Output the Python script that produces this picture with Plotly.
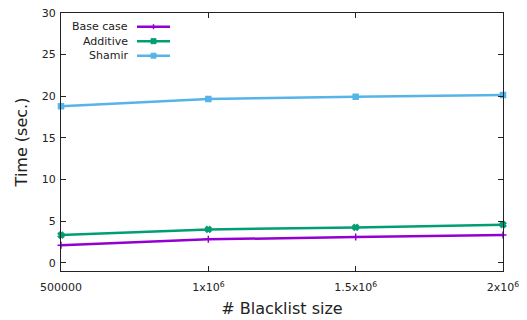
import plotly.graph_objects as go

blacklist_sizes = [500000, 1000000, 1500000, 2000000]
base_case = [2.08, 2.8, 3.08, 3.32]
additive = [3.32, 4.0, 4.24, 4.57]
shamir = [18.8, 19.66, 19.94, 20.14]

x_tick_vals = [500000, 1000000, 1500000, 2000000]
x_tick_text = ["500000", "1x10<sup>6</sup>", "1.5x10<sup>6</sup>", "2x10<sup>6</sup>"]
y_tick_vals = [0, 5, 10, 15, 20, 25, 30]

series_names = ["Base case", "Additive", "Shamir"]
colors = ["#9400D3", "#009E73", "#56B4E9"]
symbols = ["cross-thin", "x", "square"]
series = [base_case, additive, shamir]

FONT = "DejaVu Sans"

fig = go.Figure()
for name, vals, col, sym in zip(series_names, series, colors, symbols):
    fig.add_trace(go.Scatter(
        x=blacklist_sizes, y=vals, name=name, mode="lines+markers",
        line=dict(color=col, width=2.5),
        marker=dict(symbol=sym, size=5, color=col, line=dict(color=col, width=1.5)),
        cliponaxis=False, showlegend=False,
    ))

# The page body has an 8px margin, so the figure is drawn 8px right/down.
OFF = 8
L, R, T, B = 61, 503, 13, 271   # plot area in window pixels
W, H = R - L, B - T
def px(x):
    return (x - L) / W
def py(y):
    return (B - y) / H

rows_y = [26.7, 41.2, 55.7]
for name, col, yy, sym in zip(series_names, colors, rows_y, symbols):
    fig.add_annotation(x=px(130), y=py(yy), xref="paper", yref="paper",
                       text=name, showarrow=False, xanchor="right", yanchor="middle",
                       font=dict(family=FONT, size=11, color="#222"))
    fig.add_shape(type="line", xref="paper", yref="paper",
                  x0=px(137), x1=px(170), y0=py(yy), y1=py(yy),
                  line=dict(color=col, width=2.5))
    cx, cy = 153.5, yy
    if sym in ("square", "x"):
        fig.add_shape(type="rect", xref="paper", yref="paper",
                      x0=px(cx - 2.5), x1=px(cx + 2.5), y0=py(cy - 2.5), y1=py(cy + 2.5),
                      line=dict(color=col, width=1), fillcolor=col)
    else:
        fig.add_shape(type="line", xref="paper", yref="paper",
                      x0=px(cx), x1=px(cx), y0=py(cy - 2.5), y1=py(cy + 2.5),
                      line=dict(color=col, width=1.5))

axis_common = dict(
    showline=True, linecolor="#222", linewidth=1, mirror="ticks",
    ticks="inside", ticklen=5, tickcolor="#222", tickwidth=1,
    showgrid=False, zeroline=False, automargin=False,
    ticklabeloverflow="allow",
    tickfont=dict(family=FONT, size=11, color="#222"),
)

fig.update_xaxes(
    **axis_common, range=[500000, 2000000],
    tickvals=x_tick_vals, ticktext=x_tick_text, ticklabelstandoff=6,
    title=dict(text="# Blacklist size", font=dict(family=FONT, size=16, color="#222"), standoff=9),
)
fig.update_yaxes(
    **axis_common, range=[-1, 30],
    tickvals=y_tick_vals, ticklabelstandoff=2,
    title=dict(text="Time (sec.)", font=dict(family=FONT, size=16, color="#222"), standoff=10),
)

fig.update_layout(
    width=527 - OFF, height=320 - OFF,
    margin=dict(l=L - OFF, r=527 - R, t=T - OFF, b=320 - B),
    plot_bgcolor="white", paper_bgcolor="white",
    font=dict(family=FONT, color="#222"),
)

fig.write_html("out.html")
